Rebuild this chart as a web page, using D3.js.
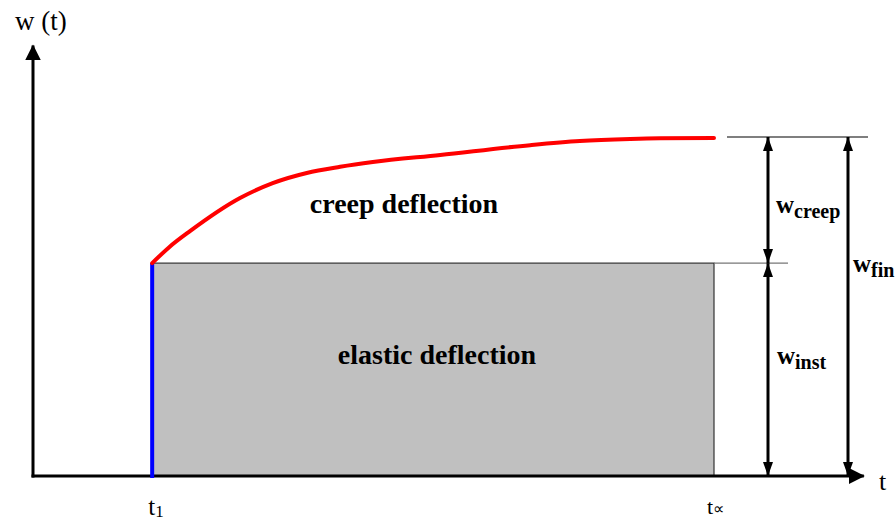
<!DOCTYPE html>
<html>
<head>
<meta charset="utf-8">
<script src="https://cdn.jsdelivr.net/npm/d3@7"></script>
<style>
  body { margin: 0; background: #fff; }
</style>
</head>
<body>
<div id="chart"></div>
<script>
// Chart data (arbitrary units: time t, deflection w)
var tMarks = [17.5, 100];          // t1, t_inf
var tLabels = ["1", "\u221D"];
var wLevels = [62.8, 100];         // w_inst, w_fin
var axisMax = [122, 127];          // t axis end, w axis end

// creep curve
var creepT = [17.5, 20.0, 23.1, 30.4, 35.2, 40.2, 45.1, 49.9, 59.8, 73.0, 80.3, 87.7, 92.1, 100];
var creepW = [62.8, 67.5, 72.3, 82.0, 86.4, 89.4, 91.2, 92.6, 94.7, 97.6, 98.8, 99.4, 99.6, 99.7];

var serif = "'Liberation Serif'";

var svgWidth = 895;
var svgHeight = 523;

var svg = d3.select("#chart")
  .append("svg")
  .attr("width", svgWidth)
  .attr("height", svgHeight);

var xScale = d3.scaleLinear().domain([0, 100]).range([33, 714]);
var yScale = d3.scaleLinear().domain([0, 100]).range([476, 137]);

// markers
var defs = svg.append("defs");
defs.append("marker")
  .attr("id", "axisHead")
  .attr("viewBox", "0 0 16 16")
  .attr("refX", 15).attr("refY", 8)
  .attr("markerWidth", 16).attr("markerHeight", 16)
  .attr("markerUnits", "userSpaceOnUse")
  .attr("orient", "auto")
  .append("path").attr("d", "M0,0 L16,8 L0,16 Z").attr("fill", "#000");
defs.append("marker")
  .attr("id", "dimHead")
  .attr("viewBox", "0 0 14 10")
  .attr("refX", 14).attr("refY", 5)
  .attr("markerWidth", 14).attr("markerHeight", 10)
  .attr("markerUnits", "userSpaceOnUse")
  .attr("orient", "auto-start-reverse")
  .append("path").attr("d", "M0,0 L14,5 L0,10 Z").attr("fill", "#000");

// elastic block
svg.append("rect")
  .attr("x", xScale(tMarks[0]))
  .attr("y", yScale(wLevels[0]))
  .attr("width", xScale(tMarks[1]) - xScale(tMarks[0]))
  .attr("height", yScale(0) - yScale(wLevels[0]))
  .attr("fill", "#c0c0c0")
  .attr("stroke", "#333")
  .attr("stroke-width", 1.2);

// extension lines
svg.append("line")
  .attr("x1", xScale(tMarks[1])).attr("x2", 788)
  .attr("y1", yScale(wLevels[0])).attr("y2", yScale(wLevels[0]))
  .attr("stroke", "#777").attr("stroke-width", 1.2);
svg.append("line")
  .attr("x1", 727).attr("x2", 868)
  .attr("y1", yScale(wLevels[1])).attr("y2", yScale(wLevels[1]))
  .attr("stroke", "#000").attr("stroke-width", 1.2);

// axes
svg.append("line")
  .attr("x1", xScale(0)).attr("x2", xScale(0))
  .attr("y1", yScale(0) + 1.5).attr("y2", yScale(axisMax[1]))
  .attr("stroke", "#000").attr("stroke-width", 3)
  .attr("marker-end", "url(#axisHead)");
svg.append("line")
  .attr("x1", xScale(0) - 1.5).attr("x2", xScale(axisMax[0]))
  .attr("y1", yScale(0)).attr("y2", yScale(0))
  .attr("stroke", "#000").attr("stroke-width", 3)
  .attr("marker-end", "url(#axisHead)");

// blue load line at t1
svg.append("line")
  .attr("x1", xScale(tMarks[0])).attr("x2", xScale(tMarks[0]))
  .attr("y1", yScale(wLevels[0])).attr("y2", yScale(0) + 2)
  .attr("stroke", "#0000ff").attr("stroke-width", 4);

// creep curve
var creepData = creepT.map(function(t, i) { return [t, creepW[i]]; });
var line = d3.line()
  .x(d => xScale(d[0]))
  .y(d => yScale(d[1]))
  .curve(d3.curveMonotoneX);
svg.append("path")
  .datum(creepData)
  .attr("d", line)
  .attr("fill", "none")
  .attr("stroke", "#ff0000")
  .attr("stroke-width", 4)
  .attr("stroke-linecap", "round");

// dimension arrows
function dimArrow(x, w0, w1) {
  svg.append("line")
    .attr("x1", x).attr("x2", x)
    .attr("y1", yScale(w0)).attr("y2", yScale(w1))
    .attr("stroke", "#000").attr("stroke-width", 3)
    .attr("marker-start", "url(#dimHead)")
    .attr("marker-end", "url(#dimHead)");
}
dimArrow(768, wLevels[1], wLevels[0]);
dimArrow(768, wLevels[0], 0);
dimArrow(848, wLevels[1], 0);

// labels
svg.append("text").attr("x", 15).attr("y", 30)
  .style("font-family", serif).style("font-size", "27px").text("w (t)");
svg.append("text").attr("x", 879).attr("y", 490)
  .style("font-family", serif).style("font-size", "26px").text("t");

svg.selectAll(".tlab")
  .data(tMarks)
  .enter()
  .append("text")
  .attr("class", "tlab")
  .attr("x", (d, i) => xScale(d) - (i ? 7 : 4))
  .attr("y", (d, i) => i ? 514 : 515)
  .style("font-family", serif)
  .style("font-size", (d, i) => i ? "22px" : "25px")
  .text("t")
  .append("tspan")
  .attr("dy", (d, i) => i ? 0 : 2)
  .style("font-size", (d, i) => i ? "16px" : "17px")
  .text((d, i) => tLabels[i]);

svg.append("text")
  .attr("x", 404).attr("y", 213)
  .attr("text-anchor", "middle")
  .style("font-family", serif)
  .style("font-size", "28px").style("font-weight", "bold")
  .text("creep deflection");
svg.append("text")
  .attr("x", 437).attr("y", 364)
  .attr("text-anchor", "middle")
  .style("font-family", serif)
  .style("font-size", "28px").style("font-weight", "bold")
  .text("elastic deflection");

function wLabel(x, y, sub) {
  var t = svg.append("text").attr("x", x).attr("y", y)
    .style("font-family", serif)
    .style("font-size", "25px").style("font-weight", "bold")
    .text("w");
  t.append("tspan").attr("dy", 5)
    .style("font-size", "20px")
    .text(sub);
}
wLabel(776, 213, "creep");
wLabel(853, 272, "fin");
wLabel(777, 364, "inst");
</script>
</body>
</html>
